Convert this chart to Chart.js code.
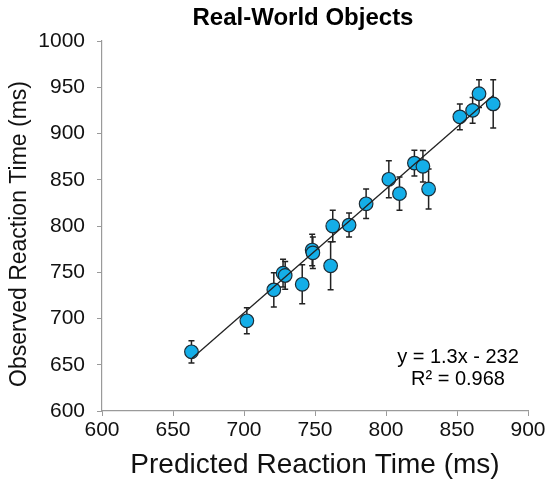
<!DOCTYPE html>
<html>
<head>
<meta charset="utf-8">
<script src="https://cdn.jsdelivr.net/npm/chart.js@4"></script>
<style>
  html, body { margin: 0; padding: 0; background: #fff; }
  #wrap { width: 551px; height: 482px; position: relative; }
</style>
</head>
<body>
<div id="wrap"><canvas id="rtChart" width="551" height="482"></canvas></div>
<script>
// predicted vs observed reaction time (ms), one entry per object
const PREDICTED = [663, 702, 721, 727.5, 729, 741, 748, 748.5, 761, 762.5, 774, 786, 802, 809.5, 820, 826, 830, 852, 861, 865.5, 875.5];
const OBSERVED  = [664, 697.5, 731, 749, 746.5, 737, 774, 771, 757, 800, 801, 824, 850.5, 835, 868, 864.5, 840, 918, 925, 943, 932];
const ERRORS    = [12, 14, 18.5, 15, 15, 21, 17, 17, 26, 17, 13, 16, 20, 18, 14, 17, 21.5, 14, 14, 15, 26];

// linear fit shown on the chart
const FIT_SLOPE = 1.34;
const FIT_INTERCEPT = -232;
const FIT_LABEL = ['y = 1.3x - 232', 'R² = 0.968'];

const X_TICKS = [600, 650, 700, 750, 800, 850, 900];
const Y_TICKS = [600, 650, 700, 750, 800, 850, 900, 950, 1000];

const FONT = '"Liberation Sans", Arial, Helvetica, sans-serif';
const AXIS_GREY = '#9a9a9a';

const fitX = [Math.min(...PREDICTED), Math.max(...PREDICTED)];
const fitPoints = fitX.map(x => ({ x, y: FIT_SLOPE * x + FIT_INTERCEPT }));

// error bars, drawn under the markers
const errorBars = {
    id: 'errorBars',
    beforeDatasetsDraw(chart) {
        const { ctx, scales: { x, y } } = chart;
        ctx.save();
        ctx.strokeStyle = '#222';
        ctx.lineWidth = 1.5;
        PREDICTED.forEach((p, i) => {
            const px = x.getPixelForValue(p);
            const top = y.getPixelForValue(OBSERVED[i] + ERRORS[i]);
            const bot = y.getPixelForValue(OBSERVED[i] - ERRORS[i]);
            ctx.beginPath();
            ctx.moveTo(px, top); ctx.lineTo(px, bot);
            ctx.moveTo(px - 3, top); ctx.lineTo(px + 3, top);
            ctx.moveTo(px - 3, bot); ctx.lineTo(px + 3, bot);
            ctx.stroke();
        });
        ctx.restore();
    }
};

// title, y axis title and fit equation
const labels = {
    id: 'labels',
    afterDraw(chart) {
        const { ctx, chartArea } = chart;
        ctx.save();
        ctx.fillStyle = '#000';
        ctx.textAlign = 'center';
        ctx.textBaseline = 'middle';
        ctx.font = 'bold 24px ' + FONT;
        ctx.fillText('Real-World Objects', 303, 18);
        ctx.font = '20px ' + FONT;
        ctx.fillText(FIT_LABEL[0], chartArea.right - 70, chartArea.bottom - 54);
        ctx.fillText(FIT_LABEL[1], chartArea.right - 70, chartArea.bottom - 32);
        ctx.translate(20, 234);
        ctx.rotate(-Math.PI / 2);
        ctx.fillStyle = '#111';
        ctx.font = '23px ' + FONT;
        ctx.fillText('Observed Reaction Time (ms)', 0, 0);
        ctx.restore();
    }
};

new Chart(document.getElementById('rtChart'), {
    data: {
        datasets: [
            {
                type: 'line',
                data: fitPoints,
                borderColor: '#222',
                borderWidth: 1.3,
                pointRadius: 0,
                fill: false
            },
            {
                type: 'scatter',
                data: PREDICTED.map((p, i) => ({ x: p, y: OBSERVED[i] })),
                backgroundColor: '#14aee8',
                borderColor: '#1c2c36',
                borderWidth: 1.2,
                pointRadius: 6.8,
                pointHoverRadius: 6.8
            }
        ]
    },
    options: {
        responsive: false,
        animation: false,
        layout: { padding: { top: 41, right: 23, left: 0, bottom: 0 } },
        plugins: {
            legend: { display: false },
            tooltip: { enabled: false }
        },
        scales: {
            x: {
                type: 'linear',
                min: 600, max: 900,
                afterBuildTicks: s => { s.ticks = X_TICKS.map(v => ({ value: v })); },
                afterFit: s => { s.height = 71; },
                grid: { drawOnChartArea: false, color: AXIS_GREY, tickLength: 5 },
                border: { color: AXIS_GREY, width: 1.2 },
                ticks: { color: '#111', font: { family: FONT, size: 21 }, padding: 2, callback: v => String(v) },
                title: {
                    display: true,
                    text: 'Predicted Reaction Time (ms)',
                    color: '#111',
                    font: { family: FONT, size: 28 },
                    padding: { top: 0, bottom: 0 }
                }
            },
            y: {
                type: 'linear',
                min: 600, max: 1000,
                afterBuildTicks: s => { s.ticks = Y_TICKS.map(v => ({ value: v })); },
                afterFit: s => { s.width = 102; },
                grid: { drawOnChartArea: false, color: AXIS_GREY, tickLength: 5 },
                border: { color: AXIS_GREY, width: 1.2 },
                ticks: { color: '#111', font: { family: FONT, size: 21 }, padding: 12, callback: v => String(v) }
            }
        }
    },
    plugins: [errorBars, labels]
});
</script>
</body>
</html>
